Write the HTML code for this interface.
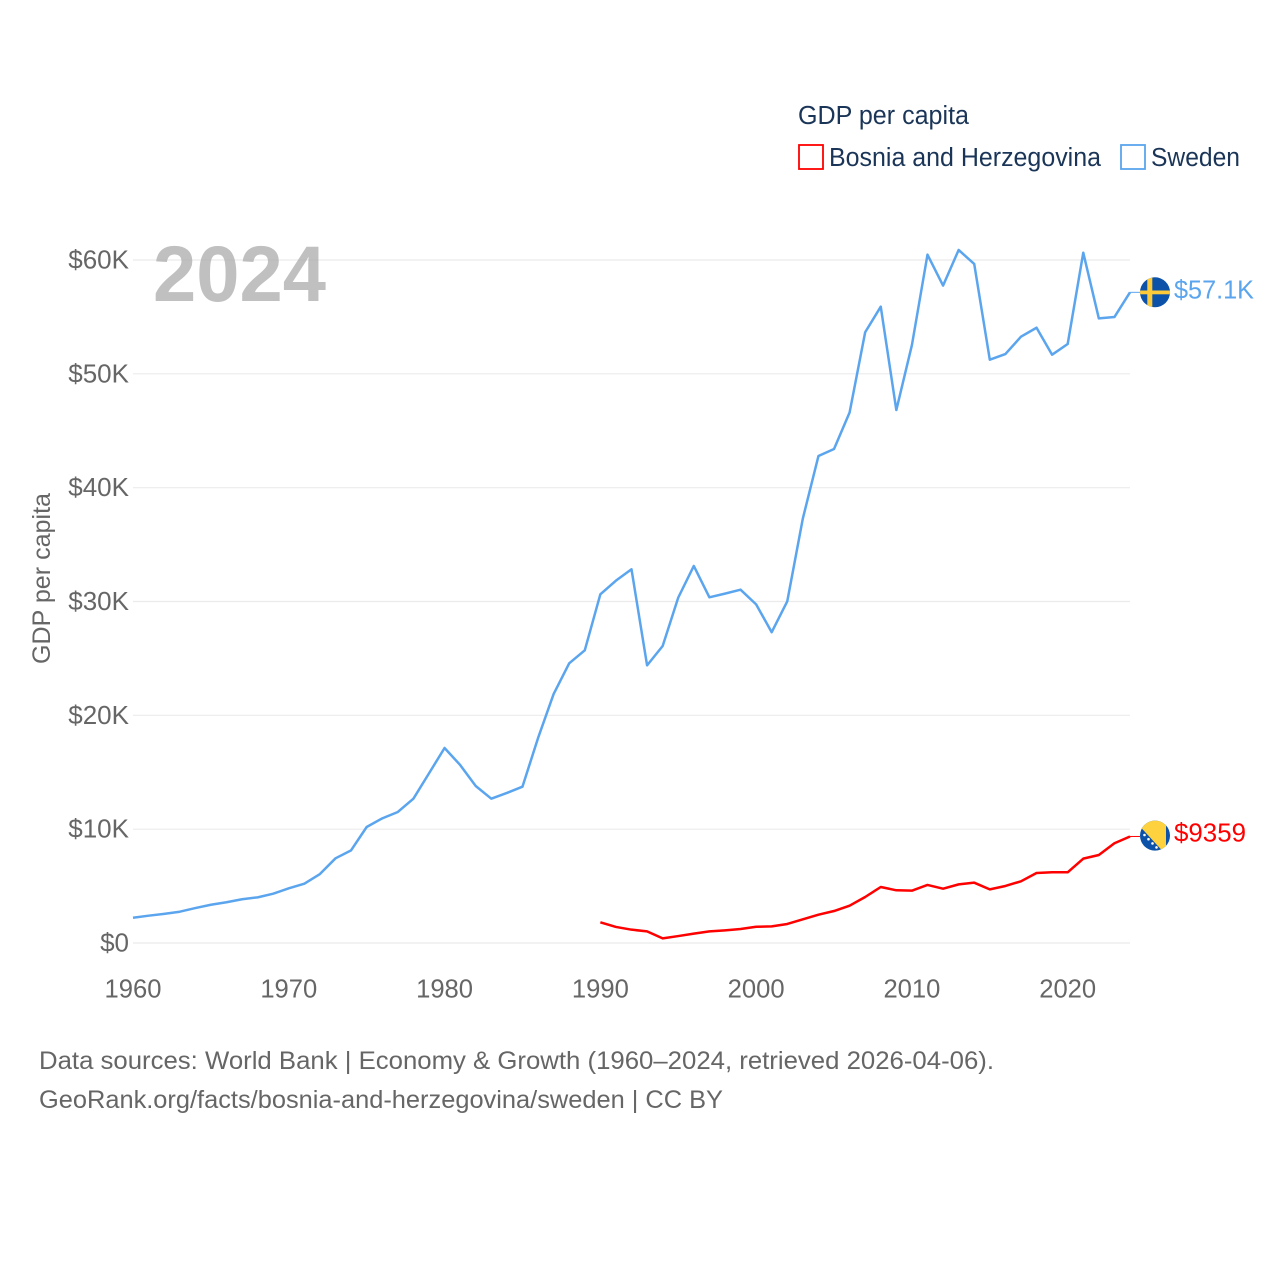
<!DOCTYPE html>
<html lang="en">
<head>
<meta charset="utf-8">
<title>GDP per capita: Bosnia and Herzegovina and Sweden</title>
<style>
html,body{margin:0;padding:0;background:#fff;}
svg{display:block;font-family:"Liberation Sans",sans-serif;}
</style>
</head>
<body>
<svg id="chart" xmlns="http://www.w3.org/2000/svg" width="1280" height="1280" viewBox="0 0 1280 1280">
  <rect width="1280" height="1280" fill="#ffffff"/>
  <g id="grid"></g>
  <g id="yticks"></g>
  <g id="xticks"></g>
  <text x="153" y="301" font-size="79" font-weight="700" fill="#a8a8a8" fill-opacity="0.72" textLength="173" lengthAdjust="spacingAndGlyphs">2024</text>
  <g id="series"></g>

  <text transform="translate(50,664) rotate(-90)" font-size="25" fill="#666666" textLength="171" lengthAdjust="spacingAndGlyphs">GDP per capita</text>

  <g>
    <text x="798" y="124" font-size="25.5" fill="#1a3557" textLength="171" lengthAdjust="spacingAndGlyphs">GDP per capita</text>
    <rect x="799" y="145" width="24" height="24" fill="none" stroke="#ff0000" stroke-width="1.8"/>
    <text x="829" y="166" font-size="25.5" fill="#1a3557" textLength="272" lengthAdjust="spacingAndGlyphs">Bosnia and Herzegovina</text>
    <rect x="1121" y="145" width="24" height="24" fill="none" stroke="#5ba5ee" stroke-width="1.8"/>
    <text x="1151" y="166" font-size="25.5" fill="#1a3557" textLength="89" lengthAdjust="spacingAndGlyphs">Sweden</text>
  </g>

  <defs>
    <clipPath id="clipSe"><circle cx="1155" cy="292.3" r="15"/></clipPath>
    <clipPath id="clipBa"><circle cx="1155" cy="835.6" r="15"/></clipPath>
  </defs>
  <g clip-path="url(#clipSe)">
    <rect x="1140" y="277" width="30" height="31" fill="#0b52a8"/>
    <rect x="1147.3" y="277" width="5" height="31" fill="#fdcb3a"/>
    <rect x="1140" y="290.5" width="30" height="3.8" fill="#fdcb3a"/>
  </g>
  <g clip-path="url(#clipBa)">
    <rect x="1140" y="820" width="30" height="31" fill="#0b52a8"/>
    <polygon points="1140,826.5 1140,820 1166,820 1166,851 1162.5,851" fill="#fdd23e"/>
    <g fill="#ffffff">
      <circle cx="1144.5" cy="835" r="1.3"/>
      <circle cx="1148.5" cy="839.2" r="1.3"/>
      <circle cx="1152.5" cy="843.4" r="1.3"/>
      <circle cx="1156.5" cy="847.4" r="1.3"/>
    </g>
  </g>
  <text x="1174" y="298.5" font-size="25.5" fill="#5ba5ee" textLength="80" lengthAdjust="spacingAndGlyphs">$57.1K</text>
  <text x="1174" y="841.5" font-size="25.5" fill="#ff0000" textLength="72" lengthAdjust="spacingAndGlyphs">$9359</text>

  <text x="39" y="1069" font-size="25" fill="#666666" textLength="955" lengthAdjust="spacingAndGlyphs">Data sources: World Bank | Economy &amp; Growth (1960–2024, retrieved 2026-04-06).</text>
  <text x="39" y="1108" font-size="25" fill="#666666" textLength="684" lengthAdjust="spacingAndGlyphs">GeoRank.org/facts/bosnia-and-herzegovina/sweden | CC BY</text>
</svg>
<script>
const swedenStartYear = 1960;
const bosniaStartYear = 1990;
const swedenValues = [2.22,2.40,2.56,2.75,3.07,3.36,3.58,3.84,4.01,4.33,4.80,5.21,6.06,7.44,8.14,10.19,10.95,11.51,12.68,14.90,17.13,15.64,13.79,12.68,13.18,13.73,18.00,21.87,24.57,25.71,30.63,31.83,32.83,24.39,26.09,30.34,33.12,30.37,30.69,31.04,29.75,27.30,30.02,37.30,42.78,43.40,46.60,53.65,55.90,46.82,52.53,60.47,57.75,60.88,59.65,51.24,51.74,53.26,54.05,51.68,52.62,60.64,54.87,54.99,57.16];
const bosniaValues = [1.82,1.41,1.17,1.02,0.41,0.61,0.82,1.02,1.11,1.23,1.43,1.46,1.67,2.08,2.49,2.81,3.28,4.04,4.92,4.63,4.60,5.10,4.77,5.15,5.30,4.71,5.01,5.42,6.15,6.21,6.21,7.41,7.73,8.76,9.359];
const yTickValues = [0,10,20,30,40,50,60];
const yTickLabels = ["$0","$10K","$20K","$30K","$40K","$50K","$60K"];
const xTickYears = [1960,1970,1980,1990,2000,2010,2020];

const NS = "http://www.w3.org/2000/svg";
const xScale = function (year) { return 133 + (year - 1960) * (1130 - 133) / (2024 - 1960); };
const yScale = function (value) { return 943 - value * (943 - 260) / 60; };

const gridGroup = document.getElementById("grid");
const yGroup = document.getElementById("yticks");
const xGroup = document.getElementById("xticks");
const seriesGroup = document.getElementById("series");

yTickValues.forEach(function (value, i) {
  const line = document.createElementNS(NS, "line");
  
  
  line.setAttribute("x1", 133);
  line.setAttribute("x2", 1130);
  line.setAttribute("y1", yScale(value));
  line.setAttribute("y2", yScale(value));
  line.setAttribute("stroke", "#ebebeb");
  line.setAttribute("stroke-width", "1.2");
  gridGroup.appendChild(line);

  const label = document.createElementNS(NS, "text");
  
  
  label.setAttribute("x", 129);
  label.setAttribute("y", yScale(value) + 8.5);
  label.setAttribute("text-anchor", "end");
  label.setAttribute("font-size", "26");
  label.setAttribute("fill", "#666666");
  label.textContent = yTickLabels[i];
  yGroup.appendChild(label);
});

xTickYears.forEach(function (year) {
  const label = document.createElementNS(NS, "text");
  
  
  label.setAttribute("x", xScale(year));
  label.setAttribute("y", 997.7);
  label.setAttribute("text-anchor", "middle");
  label.setAttribute("font-size", "25.6");
  label.setAttribute("fill", "#666666");
  label.textContent = String(year);
  xGroup.appendChild(label);
});

function pathFor(values, startYear) {
  return values.map(function (value, i) {
    return (i ? "L" : "M") + xScale(startYear + i).toFixed(2) + " " + yScale(value).toFixed(2);
  }).join(" ");
}

const swedenLine = document.createElementNS(NS, "path");


swedenLine.setAttribute("d", pathFor(swedenValues, swedenStartYear));
swedenLine.setAttribute("fill", "none");
swedenLine.setAttribute("stroke", "#5ba5ee");
swedenLine.setAttribute("stroke-width", "2.5");
swedenLine.setAttribute("stroke-linejoin", "round");
seriesGroup.appendChild(swedenLine);

const bosniaLine = document.createElementNS(NS, "path");


bosniaLine.setAttribute("d", pathFor(bosniaValues, bosniaStartYear));
bosniaLine.setAttribute("fill", "none");
bosniaLine.setAttribute("stroke", "#ff0000");
bosniaLine.setAttribute("stroke-width", "2.5");
bosniaLine.setAttribute("stroke-linejoin", "round");
seriesGroup.appendChild(bosniaLine);

const swedenConnector = document.createElementNS(NS, "line");


swedenConnector.setAttribute("x1", xScale(2024));
swedenConnector.setAttribute("x2", xScale(2024) + 10);
swedenConnector.setAttribute("y1", yScale(swedenValues[swedenValues.length - 1]));
swedenConnector.setAttribute("y2", yScale(swedenValues[swedenValues.length - 1]));
swedenConnector.setAttribute("stroke", "#5ba5ee");
swedenConnector.setAttribute("stroke-width", "1");
seriesGroup.appendChild(swedenConnector);

const bosniaConnector = document.createElementNS(NS, "line");


bosniaConnector.setAttribute("x1", xScale(2024));
bosniaConnector.setAttribute("x2", xScale(2024) + 10);
bosniaConnector.setAttribute("y1", yScale(bosniaValues[bosniaValues.length - 1]));
bosniaConnector.setAttribute("y2", yScale(bosniaValues[bosniaValues.length - 1]));
bosniaConnector.setAttribute("stroke", "#ff0000");
bosniaConnector.setAttribute("stroke-width", "1");
seriesGroup.appendChild(bosniaConnector);
</script>
</body>
</html>
